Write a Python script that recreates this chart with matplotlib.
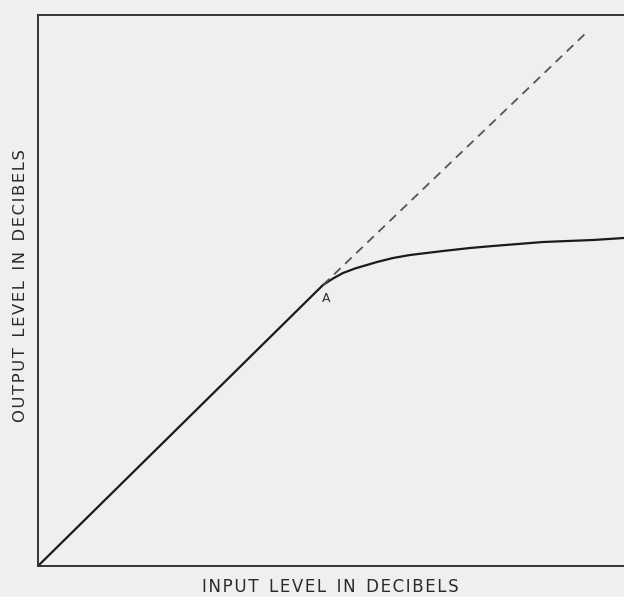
import matplotlib.pyplot as plt

# readings (arbitrary dB units)
input_db = [0.0, 28.5, 29.5, 30.5, 31.7, 33.9, 35.5, 37.2, 40.5, 43.2, 45.5, 50.5, 55.5, 58.6]
output_db = [0.0, 28.1, 28.75, 29.3, 29.75, 30.4, 30.8, 31.1, 31.5, 31.8, 32.0, 32.4, 32.6, 32.8]
ideal_in = [28.5, 54.9]
ideal_out = [28.1, 53.4]
knee_label = "A"

hs = "\u200a"


def spaced(s):
    # wide letter spacing like the old lettering
    return "  ".join(hs.join(w) for w in s.split())


fig = plt.figure(figsize=(6.24, 5.97), dpi=100)
fig.patch.set_facecolor("#efefef")
ax = fig.add_axes([38 / 624, 31 / 597, 1 - 38 / 624, 551 / 597])
ax.set_facecolor("#efefef")

ax.plot(input_db, output_db, color="#1a1a1a", lw=1.6, solid_joinstyle="round")
ax.plot(ideal_in, ideal_out, color="#555555", lw=1.3, ls=(0, (5, 3.5)))
ax.text(input_db[1] + 0.3, output_db[1] - 0.7, knee_label, fontsize=9,
        color="#333333", ha="center", va="top")

ax.set_xlim(0, 58.6)
ax.set_ylim(0, 55.1)
ax.set_xticks([])
ax.set_yticks([])
for side in ["left", "top", "bottom"]:
    ax.spines[side].set_color("#333333")
    ax.spines[side].set_linewidth(1.4)
ax.spines["right"].set_visible(False)

fig.text(330 / 624, 1 - 587 / 597, spaced("INPUT LEVEL IN DECIBELS"), fontsize=12,
         color="#2a2a2a", ha="center", va="center")
fig.text(21 / 624, 1 - 286 / 597, spaced("OUTPUT LEVEL IN DECIBELS"), fontsize=11.8,
         color="#2a2a2a", ha="center", va="center", rotation=90)

fig.savefig("out.png", dpi=100, facecolor=fig.get_facecolor())
